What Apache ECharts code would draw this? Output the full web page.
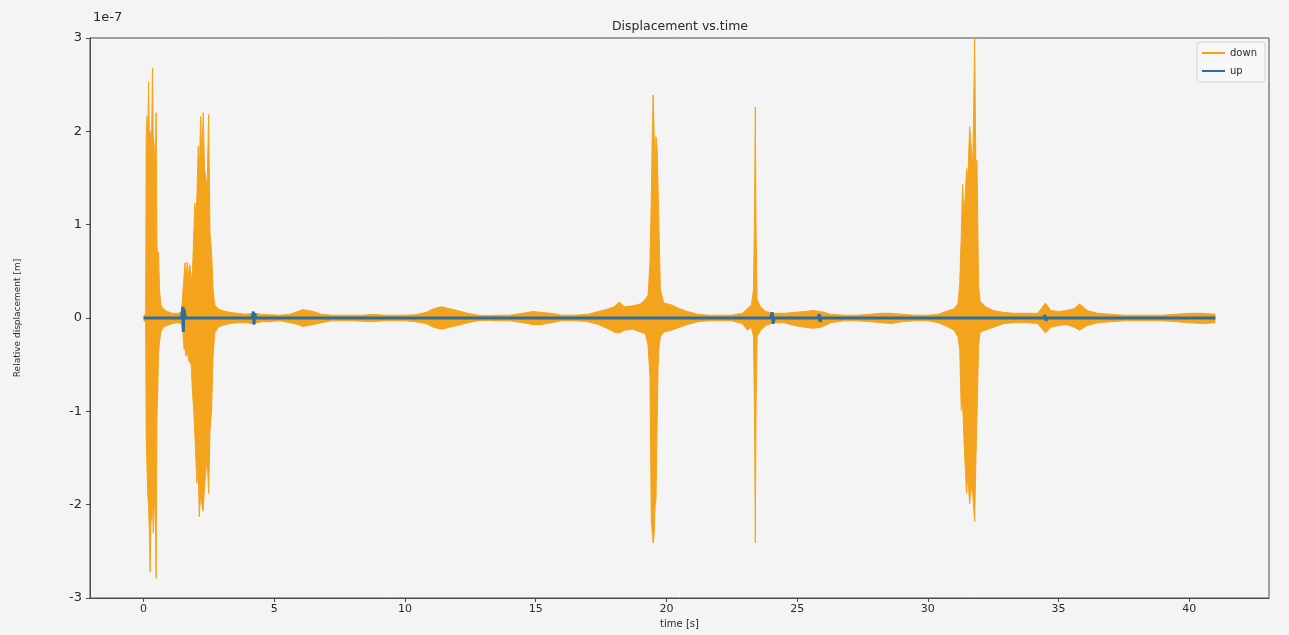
<!DOCTYPE html>
<html>
<head>
<meta charset="utf-8">
<title>Displacement vs.time</title>
<script src="https://cdn.jsdelivr.net/npm/echarts@6/dist/echarts.min.js"></script>
<style>
  html, body { margin: 0; padding: 0; background: #f4f4f4; }
  #chart { width: 1289px; height: 635px; }
</style>
</head>
<body>
<div id="chart"></div>
<script>
// Displacement in units of 1e-7 m.
// "down" sensor: time stamps with the upper and lower envelope of the signal.
const timeS = [
  0.00, 0.08, 0.10, 0.13, 0.16, 0.19, 0.22, 0.25, 0.28, 0.31, 0.34, 0.37, 0.40, 0.43, 0.46, 0.48,
  0.51, 0.54, 0.57, 0.61, 0.66, 0.75, 0.90, 1.10, 1.30, 1.45,
  1.50, 1.55, 1.58, 1.62, 1.67, 1.72, 1.77, 1.82, 1.87, 1.92, 1.96, 2.00, 2.04, 2.09, 2.13, 2.18,
  2.23, 2.28, 2.33, 2.38, 2.43, 2.49, 2.54, 2.60, 2.66, 2.72, 2.85, 3.00, 3.30, 3.60, 3.90, 4.20,
  4.50, 4.80, 5.20, 5.60, 5.90, 6.10, 6.30, 6.50, 6.80, 7.20, 7.60, 8.00, 8.40, 8.80, 9.20, 9.60,
  10.00, 10.40, 10.80, 11.10, 11.40, 11.70, 12.00, 12.40, 12.80, 13.20, 13.60, 14.00, 14.50, 14.90,
  15.20, 15.60, 16.00, 16.50, 17.00, 17.40, 17.80, 18.00, 18.20, 18.40, 18.70, 19.00, 19.20, 19.30,
  19.37, 19.42, 19.46, 19.49, 19.53, 19.57, 19.60, 19.64, 19.68, 19.72, 19.77, 19.90, 20.20, 20.50,
  20.80, 21.20, 21.60, 22.00, 22.50, 22.90, 23.10, 23.25, 23.33, 23.37, 23.40, 23.43, 23.47, 23.60,
  23.80, 24.10, 24.50, 24.90, 25.30, 25.60, 25.90, 26.30, 26.80, 27.30, 27.80, 28.20, 28.60, 29.00,
  29.50, 30.00, 30.40, 30.80, 31.00, 31.15, 31.22, 31.28, 31.33, 31.38, 31.43, 31.48, 31.53, 31.60,
  31.66, 31.72, 31.79, 31.84, 31.88, 31.94, 32.00, 32.20, 32.50, 32.90, 33.30, 33.80, 34.20, 34.50,
  34.70, 35.00, 35.30, 35.60, 35.80, 36.10, 36.50, 37.00, 37.50, 38.00, 38.50, 39.00, 39.50, 40.00,
  40.50, 41.00
];
const downMax = [
  0.02, 0.05, 1.90, 2.16, 1.90, 2.53, 1.95, 2.00, 1.90, 2.00, 2.68, 1.95, 1.85, 1.60, 1.90, 2.20,
  0.80, 0.60, 0.71, 0.30, 0.14, 0.10, 0.07, 0.05, 0.05, 0.06,
  0.27, 0.45, 0.59, 0.40, 0.60, 0.45, 0.57, 0.40, 0.50, 0.90, 1.23, 1.10, 1.30, 1.84, 1.50, 2.16,
  1.70, 2.20, 1.60, 1.50, 1.40, 2.18, 0.90, 0.71, 0.30, 0.14, 0.10, 0.08, 0.06, 0.05, 0.04, 0.05,
  0.04, 0.035, 0.03, 0.04, 0.07, 0.09, 0.08, 0.07, 0.04, 0.03, 0.03, 0.03, 0.03, 0.04, 0.03, 0.03,
  0.03, 0.035, 0.06, 0.10, 0.12, 0.10, 0.08, 0.05, 0.03, 0.025, 0.03, 0.03, 0.05, 0.07,
  0.06, 0.05, 0.03, 0.03, 0.04, 0.07, 0.10, 0.12, 0.17, 0.12, 0.13, 0.15, 0.20, 0.25,
  0.60, 1.27, 1.98, 2.39, 1.98, 1.60, 1.94, 1.83, 1.40, 0.90, 0.30, 0.16, 0.14, 0.10,
  0.07, 0.04, 0.03, 0.03, 0.03, 0.05, 0.10, 0.14, 0.30, 1.10, 2.26, 0.90, 0.20, 0.12,
  0.07, 0.05, 0.05, 0.06, 0.07, 0.08, 0.07, 0.04, 0.03, 0.03, 0.04, 0.05, 0.05, 0.04,
  0.03, 0.03, 0.04, 0.08, 0.10, 0.15, 0.37, 0.90, 1.43, 1.10, 1.30, 1.60, 1.50, 2.05,
  1.84, 1.60, 3.00, 1.50, 1.69, 0.34, 0.18, 0.12, 0.08, 0.06, 0.05, 0.05, 0.05, 0.16,
  0.08, 0.07, 0.08, 0.10, 0.15, 0.08, 0.05, 0.04, 0.03, 0.03, 0.03, 0.03, 0.04, 0.05,
  0.05, 0.04
];
const downMin = [
  -0.02, -0.05, -1.27, -1.60, -1.90, -2.00, -2.30, -2.72, -2.20, -2.10, -2.00, -2.30, -2.05, -1.95, -2.30, -2.79,
  -1.10, -0.80, -0.40, -0.25, -0.15, -0.10, -0.08, -0.06, -0.05, -0.06,
  -0.13, -0.34, -0.30, -0.41, -0.35, -0.45, -0.47, -0.50, -0.80, -1.00, -1.24, -1.50, -1.77, -1.60, -2.13, -1.90,
  -2.00, -2.07, -1.80, -1.81, -1.50, -1.88, -1.20, -0.99, -0.40, -0.16, -0.10, -0.08, -0.06, -0.05, -0.05, -0.06,
  -0.04, -0.04, -0.03, -0.05, -0.07, -0.09, -0.08, -0.07, -0.05, -0.03, -0.03, -0.03, -0.035, -0.04, -0.03, -0.03,
  -0.03, -0.04, -0.06, -0.10, -0.12, -0.10, -0.08, -0.05, -0.03, -0.025, -0.03, -0.03, -0.05, -0.07,
  -0.07, -0.05, -0.03, -0.03, -0.04, -0.07, -0.12, -0.15, -0.16, -0.13, -0.12, -0.15, -0.17, -0.30,
  -0.63, -2.16, -2.30, -2.41, -2.31, -2.00, -1.95, -1.20, -0.52, -0.30, -0.20, -0.15, -0.13, -0.10,
  -0.07, -0.04, -0.03, -0.03, -0.03, -0.06, -0.13, -0.10, -0.20, -1.00, -2.41, -0.90, -0.20, -0.13,
  -0.08, -0.05, -0.05, -0.08, -0.10, -0.11, -0.10, -0.05, -0.03, -0.03, -0.04, -0.05, -0.06, -0.04,
  -0.03, -0.03, -0.05, -0.10, -0.13, -0.20, -0.34, -0.99, -0.90, -1.30, -1.60, -1.88, -1.70, -1.99,
  -1.80, -1.90, -2.18, -1.50, -1.06, -0.30, -0.15, -0.13, -0.10, -0.06, -0.05, -0.05, -0.06, -0.16,
  -0.10, -0.08, -0.07, -0.10, -0.13, -0.08, -0.05, -0.04, -0.03, -0.03, -0.03, -0.03, -0.04, -0.05,
  -0.06, -0.05
];

// "up" sensor: nearly flat trace with a few short blips.
const upT = [0, 1.45, 1.50, 1.52, 1.54, 1.60, 4.15, 4.20, 4.22, 4.25, 4.30,
  23.98, 24.05, 24.08, 24.12, 25.80, 25.85, 25.88, 25.92, 34.43, 34.48, 34.52, 34.56, 41.0];
const upV = [0, 0, 0.12, -0.15, 0.10, 0, 0, 0.07, -0.07, 0.05, 0,
  0, 0.06, -0.06, 0, 0, 0.04, -0.04, 0, 0, 0.03, -0.03, 0, 0];

const xTicks = [0, 5, 10, 15, 20, 25, 30, 35, 40];
const yTicks = [-3, -2, -1, 0, 1, 2, 3];

const ORANGE = '#f4a41c';
const BLUE = '#2e6d9c';
const AXIS = '#4a4a4a';
const TEXT = '#2a2a2a';
const FONT = 'DejaVu Sans';

const pairs = (xs, ys) => xs.map((x, i) => [x, ys[i]]);

const chart = echarts.init(document.getElementById('chart'), null, { renderer: 'canvas' });

chart.setOption({
  animation: false,
  backgroundColor: '#f4f4f4',
  textStyle: { fontFamily: FONT },
  graphic: [
    {
      type: 'text', x: 680, y: 27,
      style: {
        text: 'Displacement vs.time', fontSize: 12.5, fill: TEXT, fontFamily: FONT,
        align: 'center', verticalAlign: 'middle'
      }
    },
    {
      type: 'text', x: 93, y: 18,
      style: { text: '1e-7', fontSize: 13, fill: TEXT, fontFamily: FONT, verticalAlign: 'middle' }
    }
  ],
  legend: {
    data: ['down', 'up'],
    orient: 'vertical',
    right: 24,
    top: 42,
    icon: 'rect',
    itemWidth: 23,
    itemHeight: 2,
    itemGap: 8,
    padding: [6, 8, 6, 5],
    backgroundColor: '#f7f7f7',
    borderColor: '#d4d4d4',
    borderWidth: 1,
    borderRadius: 3,
    textStyle: { fontSize: 10, color: TEXT, fontFamily: FONT }
  },
  grid: {
    left: 90, right: 20, top: 38, bottom: 37,
    show: true,
    backgroundColor: '#f4f4f4',
    borderColor: AXIS,
    borderWidth: 1
  },
  xAxis: {
    type: 'value',
    min: -2.05,
    max: 43.05,
    name: 'time [s]',
    nameLocation: 'middle',
    nameGap: 20,
    nameTextStyle: { fontSize: 10, color: TEXT, fontFamily: FONT },
    axisLine: { show: true, onZero: false, lineStyle: { color: AXIS } },
    axisTick: { show: true, inside: false, length: 4, customValues: xTicks, lineStyle: { color: AXIS } },
    axisLabel: { customValues: xTicks, fontSize: 11, color: TEXT, margin: 6, fontFamily: FONT },
    splitLine: { show: false }
  },
  yAxis: {
    type: 'value',
    min: -3,
    max: 3,
    interval: 1,
    name: 'Relative displacement [m]',
    nameLocation: 'middle',
    nameGap: 68,
    nameTextStyle: { fontSize: 9, color: TEXT, fontFamily: FONT },
    axisLine: { show: true, onZero: false, lineStyle: { color: AXIS } },
    axisTick: { show: true, inside: false, length: 4, customValues: yTicks, lineStyle: { color: AXIS } },
    axisLabel: { customValues: yTicks, fontSize: 13, color: TEXT, margin: 8, fontFamily: FONT },
    splitLine: { show: false }
  },
  series: [
    {
      name: 'down', type: 'line', data: pairs(timeS, downMax),
      showSymbol: false, clip: true,
      color: ORANGE,
      lineStyle: { color: ORANGE, width: 1 },
      areaStyle: { color: ORANGE, opacity: 1, origin: 0 }
    },
    {
      name: 'down', type: 'line', data: pairs(timeS, downMin),
      showSymbol: false, clip: true,
      color: ORANGE,
      lineStyle: { color: ORANGE, width: 1 },
      areaStyle: { color: ORANGE, opacity: 1, origin: 0 }
    },
    {
      name: 'up', type: 'line', data: pairs(upT, upV),
      showSymbol: false, clip: true,
      color: BLUE,
      lineStyle: { color: BLUE, width: 3 }
    }
  ]
});
</script>
</body>
</html>
